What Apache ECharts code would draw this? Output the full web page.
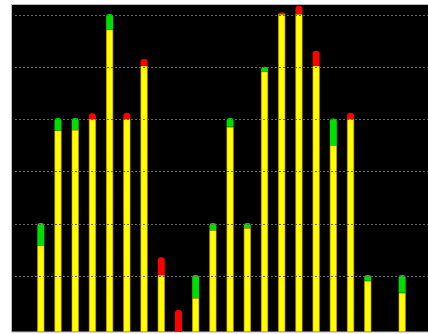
<!DOCTYPE html>
<html>
<head>
<meta charset="utf-8">
<script src="https://cdn.jsdelivr.net/npm/echarts@6/dist/echarts.min.js"></script>
<style>html,body{margin:0;padding:0;background:#fff;}#c{width:428px;height:334px;}</style>
</head>
<body>
<div id="c"></div>
<script>
const categories = ['0','1','2','3','4','5','6','7','8','9','10','11','12','13','14','15','16','17','18','19','20','21','22','23'];
const baseValues = [null, 16.6, 38.6, 38.7, 40.8, 57.9, 40.8, 51.0, 10.9, null, 6.5, 19.5, 39.3, 19.9, 49.9, 60.9, 60.9, 51.0, 35.8, 40.8, 9.8, null, 7.5, null];
const upValues = [null, 4.3, 2.4, 2.3, null, 3.0, null, null, null, null, 4.4, 1.4, 1.7, 1.0, 0.9, null, null, null, 5.1, null, 1.1, null, 3.4, null];
const downValues = [null, null, null, null, 1.1, null, 1.2, 1.3, 3.4, 4.2, null, null, null, null, null, 0.3, 1.6, 2.9, null, 1.2, null, null, null, null];
const gridValues = [10.7, 20.7, 30.7, 40.7, 50.7, 60.7];
const axisMax = 62.64;

const chart = echarts.init(document.getElementById('c'), null, {renderer: 'canvas'});
chart.setOption({
  animation: false,
  backgroundColor: '#fff',
  graphic: {
    elements: [{
      type: 'rect', z: 0, silent: true,
      shape: {x: 11.5, y: 4.5, width: 420, height: 327.5},
      style: {fill: '#000', stroke: '#bbb', lineWidth: 1}
    }]
  },
  grid: {left: 15, right: -3, top: 5, bottom: 2},
  xAxis: {type: 'category', data: categories, show: false},
  yAxis: {type: 'value', min: 0, max: axisMax, show: false, splitLine: {show: false}},
  series: [
    {
      type: 'line', data: [], z: 1, silent: true,
      markLine: {
        silent: true, symbol: ['none', 'none'], label: {show: false},
        lineStyle: {color: '#666', type: [2, 2], width: 1},
        data: gridValues.map(v => ({yAxis: v}))
      }
    },
    {type: 'bar', stack: 's', data: baseValues, barWidth: 7, z: 3,
     itemStyle: {color: '#ffff00', borderColor: '#e0a000', borderWidth: 0.6}},
    {type: 'bar', stack: 's', data: upValues, barWidth: 7, z: 3,
     itemStyle: {color: '#00dd00', borderRadius: [3, 3, 0, 0]}},
    {type: 'bar', stack: 's', data: downValues, barWidth: 7, z: 3,
     itemStyle: {color: '#ff0000', borderRadius: [3, 3, 0, 0]}}
  ]
});
</script>
</body>
</html>
